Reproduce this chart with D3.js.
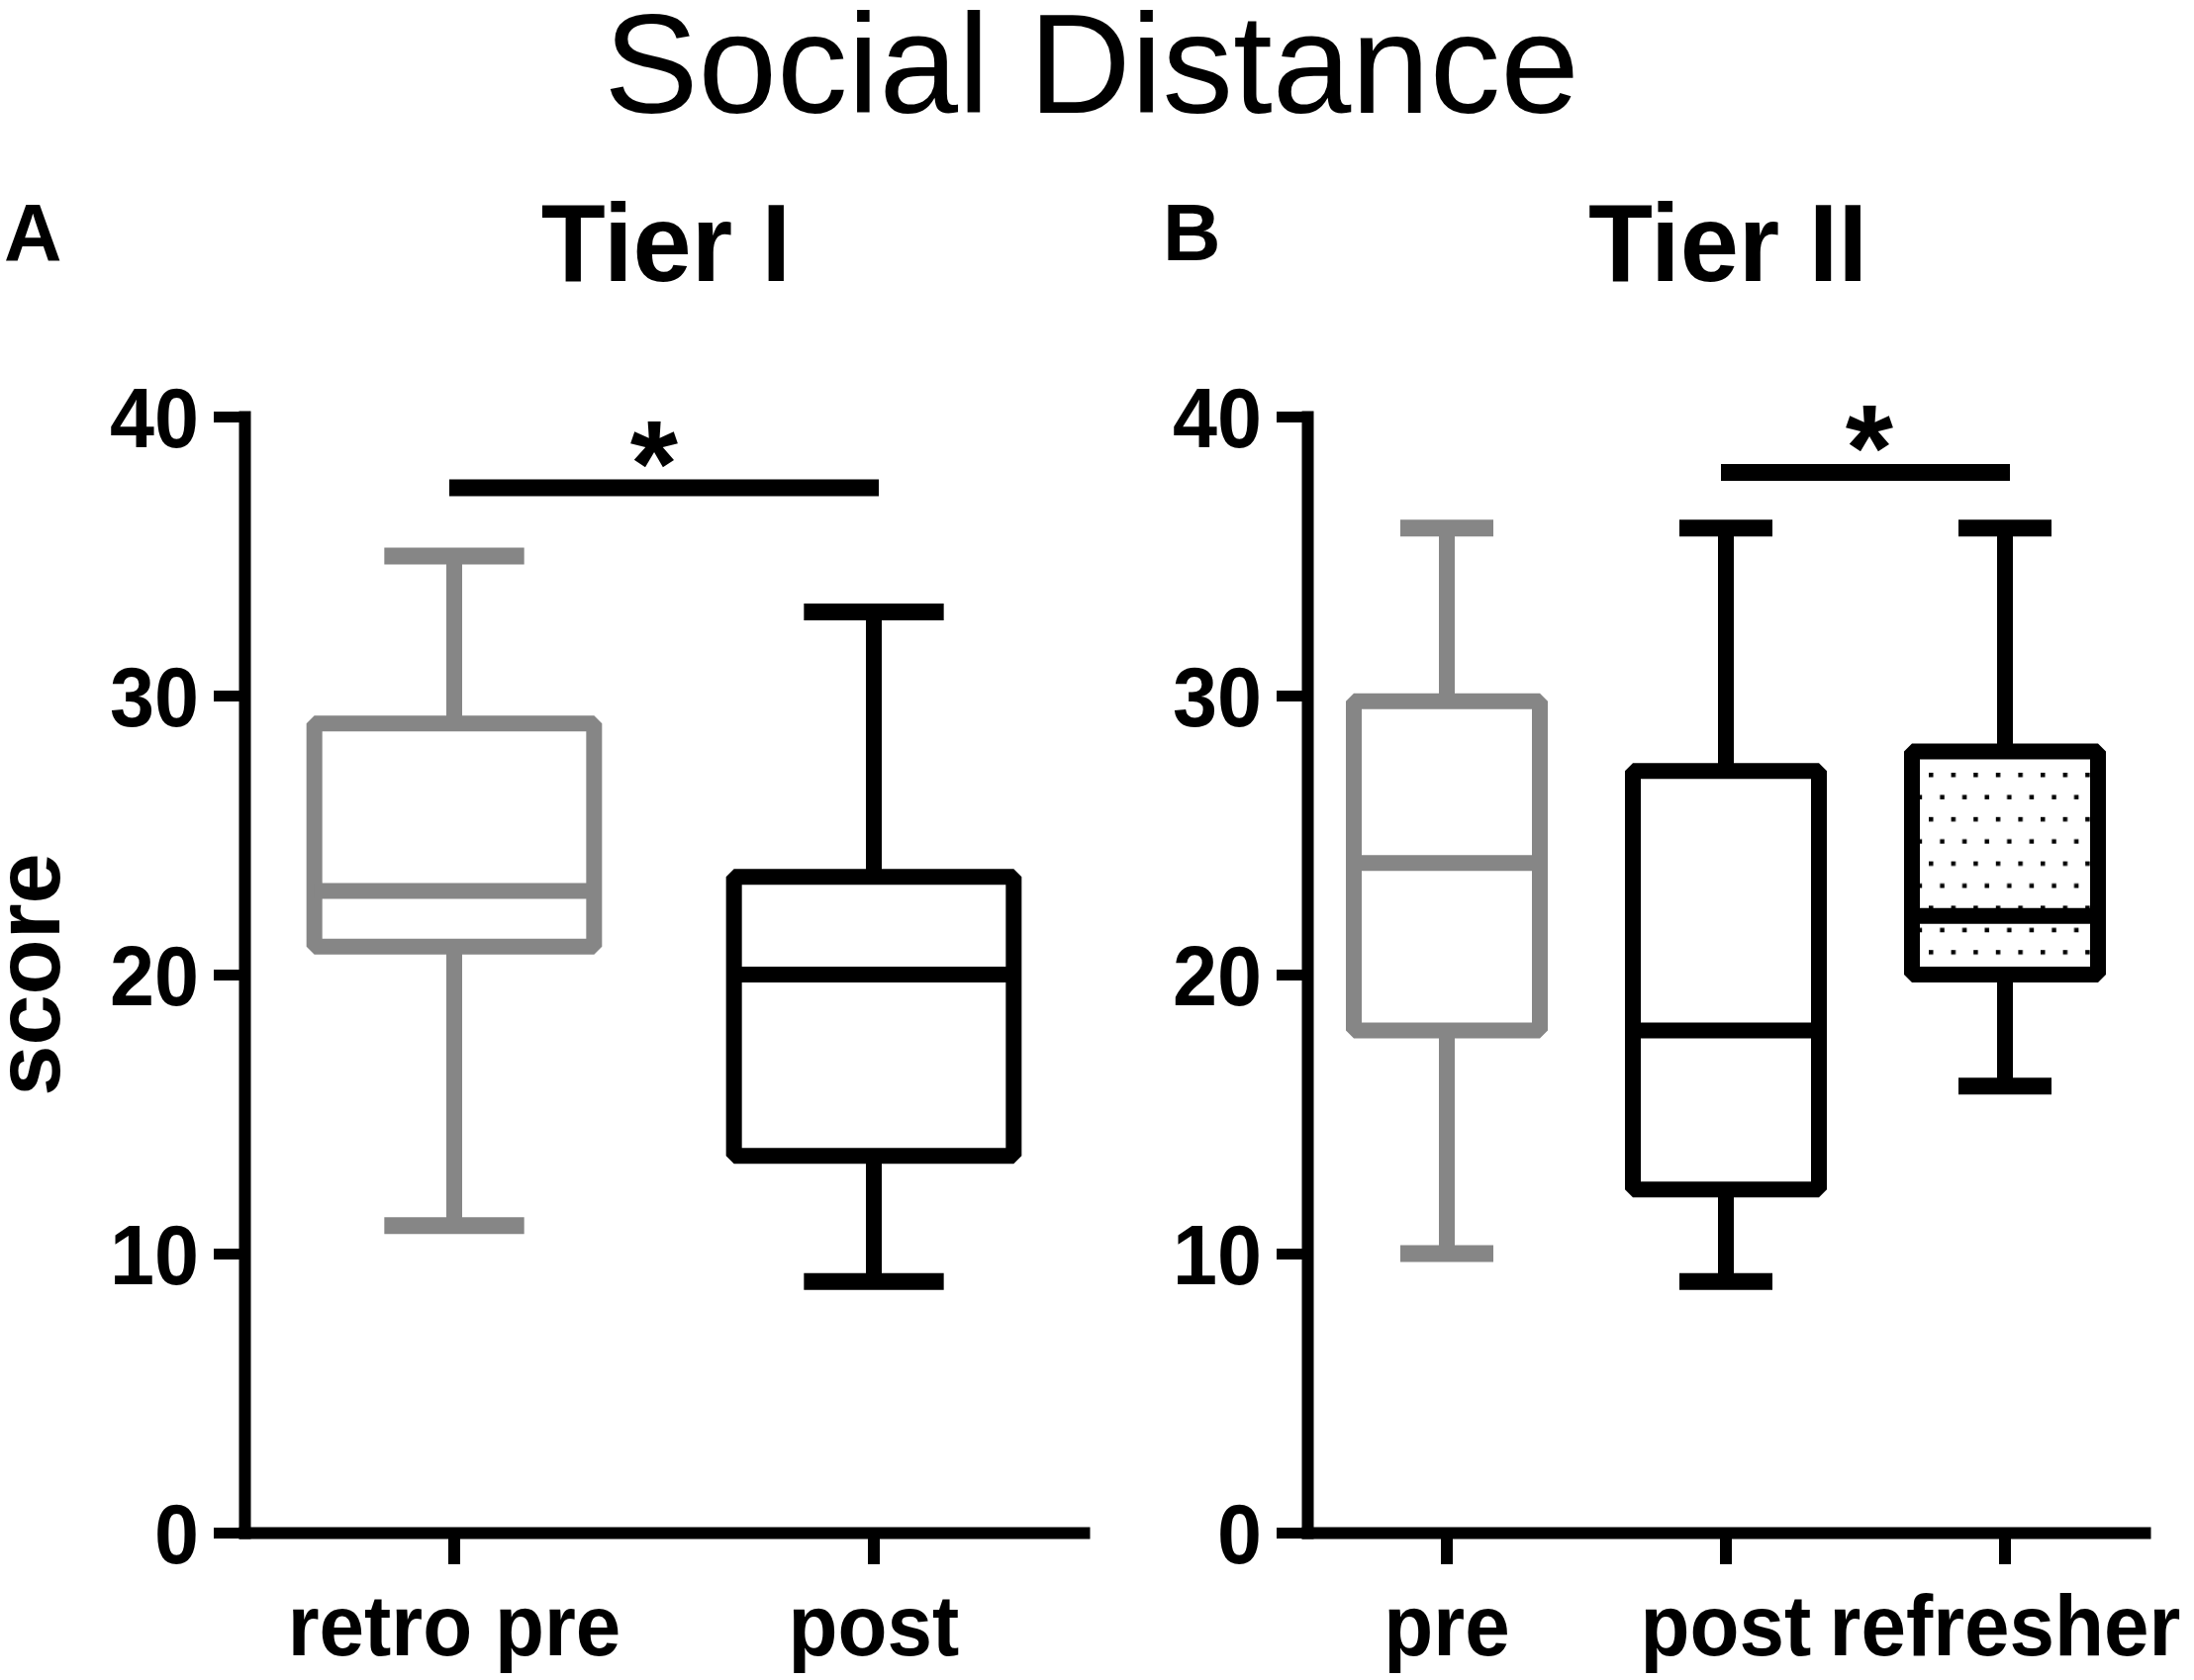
<!DOCTYPE html>
<html>
<head>
<meta charset="utf-8">
<script src="https://cdn.jsdelivr.net/npm/d3@7"></script>
<style>
  body { margin: 0; background: #fff; }
  text { font-family: "Liberation Sans", Arial, sans-serif; fill: #000; }
</style>
</head>
<body>
<div id="chart"></div>
<script>
// Tier I (panel A)
var tier1Groups = ["retro pre", "post"];
var tier1Min    = [11, 9];
var tier1Q1     = [21, 13.5];
var tier1Median = [23, 20];
var tier1Q3     = [29, 23.5];
var tier1Max    = [35, 33];
var tier1Sig    = ["retro pre", "post", 37.45];

// Tier II (panel B)
var tier2Groups = ["pre", "post", "refresher"];
var tier2Min    = [10, 9, 16];
var tier2Q1     = [18, 12.3, 20];
var tier2Median = [24, 18, 22.1];
var tier2Q3     = [29.8, 27.3, 28];
var tier2Max    = [36, 36, 36];
var tier2Sig    = ["post", "refresher", 38];

var yTicks = [0, 10, 20, 30, 40];

var width = 2217, height = 1698;
var grey = "#868686";

var svg = d3.select("#chart")
  .append("svg")
  .attr("width", width)
  .attr("height", height);

svg.append("rect").attr("width", width).attr("height", height).attr("fill", "#fff");

// the figure's type is a little narrower than Liberation Sans
function squeeze(sel, k) {
  sel.each(function () {
    var len = this.getComputedTextLength();
    d3.select(this).attr("textLength", len * k).attr("lengthAdjust", "spacingAndGlyphs");
  });
}

// dotted fill for the refresher box
svg.append("defs").append("pattern")
  .attr("id", "dots")
  .attr("patternUnits", "userSpaceOnUse")
  .attr("width", 22.6)
  .attr("height", 44.8)
  .attr("patternTransform", "translate(1957,781)")
  .selectAll("rect")
  .data([[0, 0], [11.3, 22.4]])
  .enter().append("rect")
  .attr("x", function (d) { return d[0]; })
  .attr("y", function (d) { return d[1]; })
  .attr("width", 4.5)
  .attr("height", 4.5)
  .attr("fill", "#000");

var y = d3.scaleLinear().domain([0, 40]).range([1549, 421]);

svg.append("text")
  .attr("x", 1103).attr("y", 114)
  .attr("text-anchor", "middle")
  .style("font-size", "143px")
  .text("Social Distance");

svg.append("text")
  .attr("transform", "translate(60,985) rotate(-90)")
  .attr("text-anchor", "middle")
  .style("font-size", "92px").style("font-weight", "bold")
  .text("score");

function drawPanel(p) {
  var x = d3.scaleBand().domain(p.groups).range(p.range);
  var bw = x.bandwidth();
  var g = svg.append("g");

  // y axis
  var yAxis = g.append("g")
    .attr("transform", "translate(" + p.range[0] + ",0)")
    .call(d3.axisLeft(y).tickValues(yTicks).tickSize(31).tickSizeOuter(0).tickPadding(15));
  yAxis.select(".domain").attr("stroke-width", 12).attr("stroke-linecap", "square");
  yAxis.selectAll(".tick line").attr("stroke-width", 11);
  yAxis.selectAll(".tick text")
    .attr("dy", "0.36em")
    .style("font-size", "86px").style("font-weight", "bold")
    .style("font-family", "'Liberation Sans', Arial, sans-serif")
    .call(squeeze, 0.94);

  // x axis
  var xAxis = g.append("g")
    .attr("transform", "translate(0," + y(0) + ")")
    .call(d3.axisBottom(x).tickSize(32).tickSizeOuter(0));
  xAxis.select(".domain").attr("stroke-width", 12).attr("stroke-linecap", "square");
  xAxis.selectAll(".tick line").attr("stroke-width", 12);
  xAxis.selectAll(".tick text")
    .attr("y", 124).attr("dy", 0)
    .style("font-size", "88px").style("font-weight", "bold")
    .style("font-family", "'Liberation Sans', Arial, sans-serif")
    .call(squeeze, 0.93);

  // panel letter and tier title
  g.append("text")
    .attr("x", p.letterX).attr("y", 263)
    .style("font-size", "81px").style("font-weight", "bold")
    .text(p.letter);
  g.append("text")
    .attr("x", (p.range[0] + p.range[1]) / 2 + 2).attr("y", 284)
    .attr("text-anchor", "middle")
    .style("font-size", "112px").style("font-weight", "bold")
    .text(p.title)
    .call(squeeze, 0.95);

  var data = p.groups.map(function (name, i) {
    return { name: name, min: p.min[i], q1: p.q1[i], med: p.median[i], q3: p.q3[i], max: p.max[i],
             color: i == 0 ? grey : "#000", dotted: name == "refresher" };
  });

  var box = g.selectAll(".box")
    .data(data)
    .enter().append("g")
    .attr("class", "box")
    .attr("transform", function (d) { return "translate(" + (x(d.name) + bw / 2) + ",0)"; });

  // whiskers
  box.append("line")
    .attr("x1", 0).attr("x2", 0)
    .attr("y1", function (d) { return y(d.max); })
    .attr("y2", function (d) { return y(d.min); })
    .attr("stroke", function (d) { return d.color; })
    .attr("stroke-width", 16);
  // caps
  box.selectAll(".cap")
    .data(function (d) { return [{ v: d.max, c: d.color }, { v: d.min, c: d.color }]; })
    .enter().append("line")
    .attr("x1", -bw / 6).attr("x2", bw / 6)
    .attr("y1", function (d) { return y(d.v); })
    .attr("y2", function (d) { return y(d.v); })
    .attr("stroke", function (d) { return d.c; })
    .attr("stroke-width", 17);
  // box
  box.append("rect")
    .attr("x", -bw / 3)
    .attr("width", bw * 2 / 3)
    .attr("y", function (d) { return y(d.q3); })
    .attr("height", function (d) { return y(d.q1) - y(d.q3); })
    .attr("fill", "#fff");
  box.filter(function (d) { return d.dotted; }).append("rect")
    .attr("x", -bw / 3)
    .attr("width", bw * 2 / 3)
    .attr("y", function (d) { return y(d.q3); })
    .attr("height", function (d) { return y(d.q1) - y(d.q3); })
    .attr("fill", "url(#dots)");
  box.append("rect")
    .attr("x", -bw / 3)
    .attr("width", bw * 2 / 3)
    .attr("y", function (d) { return y(d.q3); })
    .attr("height", function (d) { return y(d.q1) - y(d.q3); })
    .attr("fill", "none")
    .attr("stroke", function (d) { return d.color; })
    .attr("stroke-width", 16)
    .attr("stroke-linejoin", "bevel");
  // median
  box.append("line")
    .attr("x1", -bw / 3).attr("x2", bw / 3)
    .attr("y1", function (d) { return y(d.med); })
    .attr("y2", function (d) { return y(d.med); })
    .attr("stroke", function (d) { return d.color; })
    .attr("stroke-width", 16);

  // significance bar
  var sx1 = x(p.sig[0]) + bw / 2, sx2 = x(p.sig[1]) + bw / 2;
  g.append("line")
    .attr("x1", sx1 - 5).attr("x2", sx2 + 5)
    .attr("y1", y(p.sig[2])).attr("y2", y(p.sig[2]))
    .attr("stroke", "#000")
    .attr("stroke-width", 17);
  g.append("text")
    .attr("x", (sx1 + sx2) / 2 + p.starDx)
    .attr("y", y(p.sig[2]) - 70 + 0.716 * 124)
    .attr("text-anchor", "middle")
    .style("font-size", "124px").style("font-weight", "bold")
    .text("*");
}

drawPanel({
  groups: tier1Groups, min: tier1Min, q1: tier1Q1, median: tier1Median, q3: tier1Q3, max: tier1Max,
  sig: tier1Sig, range: [247, 1095], letter: "A", letterX: 4, title: "Tier I", starDx: -10
});
drawPanel({
  groups: tier2Groups, min: tier2Min, q1: tier2Q1, median: tier2Median, q3: tier2Q3, max: tier2Max,
  sig: tier2Sig, range: [1321, 2167], letter: "B", letterX: 1175, title: "Tier II", starDx: 4
});
</script>
</body>
</html>
